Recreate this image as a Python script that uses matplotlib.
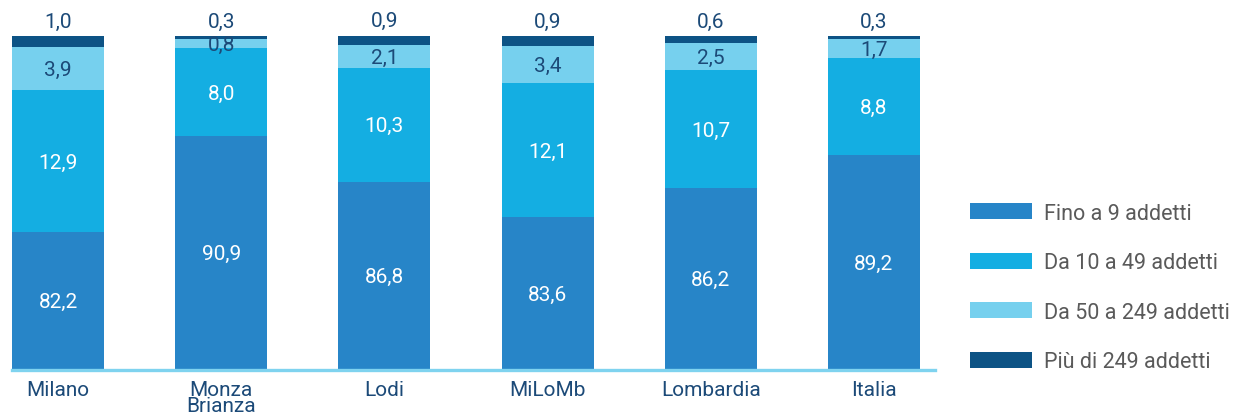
import matplotlib
matplotlib.use("Agg")
import matplotlib.pyplot as plt
import numpy as np

categories = ["Milano", "Monza\nBrianza", "Lodi", "MiLoMb", "Lombardia", "Italia"]
series_names = ["Fino a 9 addetti", "Da 10 a 49 addetti",
                "Da 50 a 249 addetti", "Più di 249 addetti"]
fino_9 = [82.2, 90.9, 86.8, 83.6, 86.2, 89.2]
da_10_49 = [12.9, 8.0, 10.3, 12.1, 10.7, 8.8]
da_50_249 = [3.9, 0.8, 2.1, 3.4, 2.5, 1.7]
oltre_249 = [1.0, 0.3, 0.9, 0.9, 0.6, 0.3]

colors = ["#2785c8", "#14aee2", "#76d0ee", "#0d5385"]
navy = "#1c4a78"

plt.rcParams['font.family'] = ['Roboto', 'DejaVu Sans']

fig = plt.figure(figsize=(12.38, 4.14), dpi=100)
ax = fig.add_axes([12 / 1238, 44 / 414, 923 / 1238, 333 / 414])

x = np.arange(len(categories))
width = 0.564
# the original chart cuts the y axis: only the top ~30 points are shown
ymin, ymax = 69.8, 100.0
fs = 15

series = [fino_9, da_10_49, da_50_249, oltre_249]
bottom = np.zeros(len(categories))
for i, (vals, name) in enumerate(zip(series, series_names)):
    vals = np.array(vals)
    ax.bar(x, vals, width, bottom=bottom, color=colors[i], label=name,
           linewidth=0)
    for j in range(len(categories)):
        lo = max(bottom[j], ymin)
        hi = bottom[j] + vals[j]
        txt = ("%.1f" % vals[j]).replace(".", ",")
        if i == 3:
            ax.text(x[j], hi + 0.45, txt, ha="center", va="bottom",
                    fontsize=fs, color=navy)
        else:
            col = "white" if i < 2 else navy
            ax.text(x[j], (lo + hi) / 2 - 0.1, txt, ha="center", va="center",
                    fontsize=fs, color=col)
    bottom = bottom + vals

ax.set_xlim(-0.282, 5.374)
ax.set_ylim(ymin, ymax)
ax.axhline(ymin - 0.05, color="#7fd3ef", linewidth=2.4, clip_on=False)

for s in ax.spines.values():
    s.set_visible(False)
ax.set_yticks([])
ax.set_xticks(x)
ax.set_xticklabels(categories, fontsize=fs, color=navy,
                   linespacing=0.8, va="top")
ax.tick_params(axis="x", length=0, pad=8)

fig.legend(loc="center left", bbox_to_anchor=(970 / 1238, 1 - 288.5 / 414),
           frameon=False, borderpad=0, borderaxespad=0,
           handlelength=2.9, handleheight=0.75, handletextpad=0.55,
           labelspacing=1.33, prop={"size": 15.5},
           labelcolor="#5a5a5a")

fig.savefig("out.png", dpi=100)
